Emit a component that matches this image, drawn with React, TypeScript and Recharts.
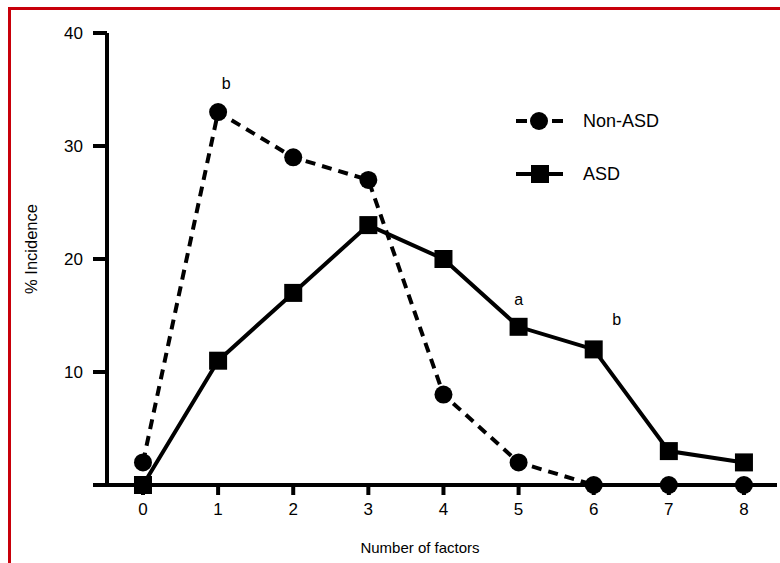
import { LineChart, Line, XAxis, YAxis, Legend, ReferenceDot, Label } from 'recharts'

const factors = [0, 1, 2, 3, 4, 5, 6, 7, 8]
const nonAsd = [2, 33, 29, 27, 8, 2, 0, 0, 0]
const asd = [0, 11, 17, 23, 20, 14, 12, 3, 2]
const yTicks = [0, 10, 20, 30, 40]
const notes = [
  { x: 1, y: 33, text: 'b', dx: 8, dy: -29 },
  { x: 5, y: 14, text: 'a', dx: 0, dy: -27 },
  { x: 6, y: 12, text: 'b', dx: 23, dy: -30 },
]

const FONT = '"Liberation Sans", Arial, Helvetica, sans-serif'

const data = factors.map((x, i) => ({ x, nonAsd: nonAsd[i], asd: asd[i] }))

// eslint-disable-next-line @typescript-eslint/no-explicit-any
const SquareDot = (props: any) => {
  const { cx, cy, index } = props
  if (cx == null || cy == null) return null
  return <rect key={`sq-${index}`} x={cx - 9} y={cy - 9} width={18} height={18} fill="#000" />
}

const renderLegend = () => (
  <div style={{ fontFamily: FONT, fontSize: 18, color: '#000' }}>
    <div style={{ display: 'flex', alignItems: 'center', height: 24 }}>
      <svg width={73} height={24}>
        <line x1={6} y1={12} x2={54} y2={12} stroke="#000" strokeWidth={4} strokeDasharray="11 7" />
        <circle cx={29} cy={12} r={9} fill="#000" />
      </svg>
      <span style={{ lineHeight: '24px' }}>Non-ASD</span>
    </div>
    <div style={{ display: 'flex', alignItems: 'center', height: 24, marginTop: 29 }}>
      <svg width={73} height={24}>
        <line x1={6} y1={12} x2={53} y2={12} stroke="#000" strokeWidth={4} />
        <rect x={21} y={3} width={18} height={18} fill="#000" />
      </svg>
      <span style={{ lineHeight: '24px' }}>ASD</span>
    </div>
  </div>
)

export default function App() {
  return (
    <div style={{ position: 'fixed', left: 0, top: 0, width: 780, height: 563, background: '#fff' }}>
      <div
        style={{
          position: 'absolute', left: 8, top: 7, width: 772, height: 556,
          borderLeft: '3px solid #c8000a', borderTop: '3px solid #c8000a', boxSizing: 'border-box',
        }}
      />
      <LineChart
        width={780}
        height={563}
        data={data}
        margin={{ top: 33, right: 3, bottom: 0, left: 0 }}
        style={{ position: 'absolute', left: 0, top: 0 }}
      >
        <XAxis
          dataKey="x"
          type="number"
          domain={[-0.479, 8.44]}
          ticks={factors}
          allowDataOverflow
          height={78}
          tickSize={10}
          tickMargin={8}
          axisLine={{ stroke: '#000', strokeWidth: 4 }}
          tickLine={{ stroke: '#000', strokeWidth: 4 }}
          tick={{ fill: '#000', fontSize: 17, fontFamily: FONT }}
        >
          <Label
            content={({ viewBox }: any) => (
              <text
                x={viewBox.x + viewBox.width / 2 - 22}
                y={viewBox.y + 68}
                textAnchor="middle"
                fontSize={15}
                fontFamily={FONT}
                fill="#000"
              >
                Number of factors
              </text>
            )}
          />
        </XAxis>
        <YAxis
          type="number"
          domain={[0, 40]}
          ticks={yTicks}
          width={107}
          tickSize={14}
          tickMargin={10}
          tickFormatter={(v: number) => (v === 0 ? '' : String(v))}
          axisLine={{ stroke: '#000', strokeWidth: 4 }}
          tickLine={{ stroke: '#000', strokeWidth: 4 }}
          tick={{ fill: '#000', fontSize: 17, fontFamily: FONT }}
        >
          <Label
            content={({ viewBox }: any) => {
              const cx = 31
              const cy = viewBox.y + viewBox.height / 2 - 10
              return (
                <text
                  x={cx}
                  y={cy}
                  transform={`rotate(-90 ${cx} ${cy})`}
                  textAnchor="middle"
                  dominantBaseline="central"
                  fontSize={16.5}
                  fontFamily={FONT}
                  fill="#000"
                >
                  % Incidence
                </text>
              )
            }}
          />
        </YAxis>
        <Legend
          layout="horizontal"
          align="center"
          verticalAlign="middle"
          content={renderLegend}
          wrapperStyle={{ left: 510, top: 109, width: 200, height: 80 }}
        />
        <Line
          dataKey="asd"
          name="ASD"
          stroke="#000"
          strokeWidth={4}
          dot={<SquareDot />}
          activeDot={false}
          isAnimationActive={false}
        />
        <Line
          dataKey="nonAsd"
          name="Non-ASD"
          stroke="#000"
          strokeWidth={4}
          strokeDasharray="10 7"
          dot={{ r: 9, fill: '#000', stroke: 'none', strokeDasharray: '' }}
          activeDot={false}
          isAnimationActive={false}
        />
        {notes.map((n, i) => (
          <ReferenceDot
            key={i}
            x={n.x}
            y={n.y}
            r={0}
            fill="none"
            stroke="none"
            label={{
              content: ({ viewBox }: any) => (
                <text
                  x={viewBox.x + viewBox.width / 2 + n.dx}
                  y={viewBox.y + viewBox.height / 2 + n.dy}
                  textAnchor="middle"
                  dominantBaseline="central"
                  fontSize={16}
                  fontFamily={FONT}
                  fill="#000"
                >
                  {n.text}
                </text>
              ),
            }}
          />
        ))}
      </LineChart>
    </div>
  )
}
